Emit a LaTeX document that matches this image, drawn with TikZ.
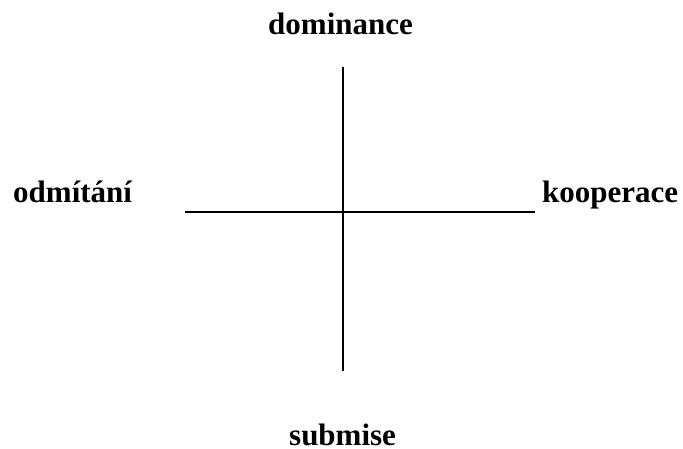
\documentclass[tikz,border=0pt]{standalone}
\usepackage{fontspec}
\setmainfont{Liberation Serif}
\begin{document}
\begin{tikzpicture}[x=1pt,y=1pt,
  lbl/.style={inner sep=0pt,anchor=base west,font=\fontsize{31}{36}\selectfont\bfseries},
  axis/.style={line width=1.6pt,black}]
\useasboundingbox (0,0) rectangle (683,448);
\node[lbl] (dom) at (268,413) {dominance};
\node[lbl] (odm) at (13,245) {odmítání};
\node[lbl] (koo) at (542,245) {kooperace};
\node[lbl] (sub) at (289,3) {submise};
\coordinate (top) at (343,381);
\coordinate (bot) at (343,77);
\coordinate (left) at (185,236);
\coordinate (right) at (535,236);
\draw[axis] (top) -- (bot);
\draw[axis] (left) -- (right);
\end{tikzpicture}
\end{document}
